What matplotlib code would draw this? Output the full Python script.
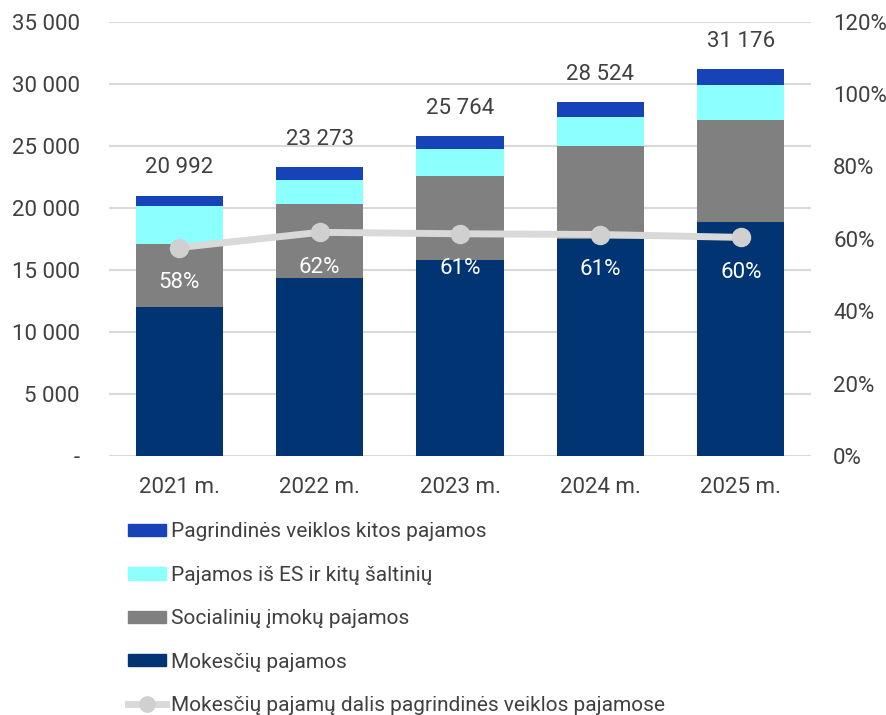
import numpy as np
import matplotlib.pyplot as plt
from matplotlib.lines import Line2D
from matplotlib.patches import Patch

# duomenys
metai = ['2021 m.', '2022 m.', '2023 m.', '2024 m.', '2025 m.']
mokesciu = [12040, 14380, 15810, 17470, 18840]
socialiniu = [5060, 5920, 6770, 7500, 8260]
es_kitu = [3060, 1930, 2120, 2340, 2760]
kitos = [832, 1043, 1064, 1214, 1316]
viso = [20992, 23273, 25764, 28524, 31176]
dalis = [57.6, 61.8, 61.4, 61.2, 60.4]   # %

c_navy = '#003473'
c_gray = '#808080'
c_cyan = '#8CFFFF'
c_blue = '#1743B8'
c_line = '#D9D9D9'
c_text = '#404040'

plt.rcParams['font.family'] = ['Roboto', 'DejaVu Sans']
fs = 16

fig = plt.figure(figsize=(8.87, 7.15), dpi=100)
ax = fig.add_axes([0.1229, 0.3622, 0.7914, 0.6075])
ax2 = ax.twinx()

x = np.arange(len(metai))
w = 0.62
b1 = np.array(mokesciu)
b2 = b1 + np.array(socialiniu)
b3 = b2 + np.array(es_kitu)
ax.bar(x, mokesciu, w, color=c_navy, zorder=2)
ax.bar(x, socialiniu, w, bottom=b1, color=c_gray, zorder=2)
ax.bar(x, es_kitu, w, bottom=b2, color=c_cyan, zorder=2)
ax.bar(x, kitos, w, bottom=b3, color=c_blue, zorder=2)

# sumos virš stulpelių
for xi, v in zip(x, viso):
    ax.annotate(f'{v:,}'.replace(',', ' '), (xi, v), xytext=(0, 20), textcoords='offset points',
                ha='center', va='center', fontsize=fs, color=c_text)

ax.set_xlim(-0.5, len(metai) - 0.5)
ax.set_ylim(0, 35000)
ax.set_yticks(np.arange(0, 35001, 5000))
ax.set_yticklabels(['-'] + [f'{v:,}'.replace(',', ' ') for v in range(5000, 35001, 5000)])
ax.set_xticks(x)
ax.set_xticklabels(metai)
ax.grid(axis='y', color=c_line, linewidth=1.5, zorder=0)
ax.set_axisbelow(True)
ax.tick_params(axis='y', length=0, pad=21, labelsize=fs, colors=c_text)
ax.tick_params(axis='x', length=0, pad=15, labelsize=fs, colors=c_text)

# dalis (antroji ašis)
ax2.plot(x, dalis, color=c_line, linewidth=5, marker='o', markersize=13,
         markerfacecolor='#D0D0D0', markeredgecolor='#D0D0D0', zorder=3)
for xi, p in zip(x, dalis):
    ax2.annotate(f'{round(p)}%', (xi, p), xytext=(0, -25), textcoords='offset points',
                 ha='center', va='center', fontsize=fs, color='white')
ax2.set_ylim(0, 120)
ax2.set_yticks(np.arange(0, 121, 20))
ax2.set_yticklabels([f'{v}%' for v in range(0, 121, 20)])
ax2.tick_params(axis='y', length=0, pad=16, labelsize=fs, colors=c_text)

for a in (ax, ax2):
    for s in a.spines.values():
        s.set_visible(False)

# legenda
handles = [
    Patch(color=c_blue),
    Patch(color=c_cyan),
    Patch(color=c_gray),
    Patch(color=c_navy),
    Line2D([0], [0], color=c_line, linewidth=5, marker='o', markersize=11,
           markerfacecolor='#D0D0D0', markeredgecolor='#D0D0D0'),
]
labels = ['Pagrindinės veiklos kitos pajamos', 'Pajamos iš ES ir kitų šaltinių',
          'Socialinių įmokų pajamos', 'Mokesčių pajamos',
          'Mokesčių pajamų dalis pagrindinės veiklos pajamose']
fig.legend(handles, labels, loc='upper left', bbox_to_anchor=(0.135, 0.281),
           frameon=False, fontsize=15, labelcolor=c_text, handlelength=1.83,
           handleheight=0.55, handletextpad=0.25, labelspacing=1.17, borderaxespad=0)

fig.savefig('out.png', dpi=100)
